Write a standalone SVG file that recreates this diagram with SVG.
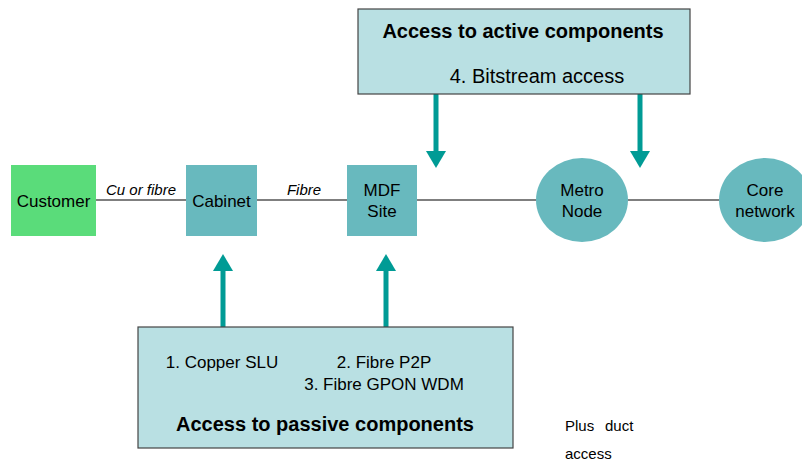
<svg xmlns="http://www.w3.org/2000/svg" width="802" height="462" viewBox="0 0 802 462">
  <style>
    text { font-family: "Liberation Sans", Arial, sans-serif; fill: #000; }
    .node { fill: #68B9BE; }
    .cust { fill: #5ADC7A; }
    .panel { fill: #B9E0E3; stroke: #444; stroke-width: 1.2; }
    .link { stroke: #555; stroke-width: 1.5; fill: none; }
    .arrow { stroke: #009B95; stroke-width: 5; fill: none; }
    .lbl { font-size: 17px; text-anchor: middle; }
    .it { font-size: 15px; font-style: italic; text-anchor: middle; }
    .hd { font-size: 20px; font-weight: bold; text-anchor: middle; }
    .item { font-size: 17px; text-anchor: middle; }
    .big { font-size: 20px; text-anchor: middle; }
    .note { font-size: 15px; }
  </style>
  <defs>
    <marker id="head" markerWidth="4" markerHeight="4" refX="1" refY="2" orient="auto" markerUnits="strokeWidth">
      <path d="M0,0 L3.4,2 L0,4 Z" fill="#009B95"/>
    </marker>
  </defs>

  <!-- chain links -->
  <g id="connectors">
    <line class="link" x1="96" y1="200" x2="186" y2="200"/>
    <line class="link" x1="257" y1="200" x2="347" y2="200"/>
    <line class="link" x1="417" y1="200" x2="536" y2="200"/>
    <line class="link" x1="628" y1="200" x2="719" y2="200"/>
    <text class="it" x="141" y="195">Cu or fibre</text>
    <text class="it" x="304" y="195">Fibre</text>
    <line class="arrow" x1="436" y1="94" x2="436" y2="156" marker-end="url(#head)"/>
    <line class="arrow" x1="640" y1="94" x2="640" y2="156" marker-end="url(#head)"/>
    <line class="arrow" x1="223" y1="327" x2="223" y2="266" marker-end="url(#head)"/>
    <line class="arrow" x1="386" y1="327" x2="386" y2="266" marker-end="url(#head)"/>
  </g>

  <g id="customer">
    <rect class="cust" x="11" y="165" width="85" height="71"/>
    <text class="lbl" x="53.5" y="207">Customer</text>
  </g>
  <g id="cabinet">
    <rect class="node" x="186" y="165" width="71" height="71"/>
    <text class="lbl" x="221.5" y="207">Cabinet</text>
  </g>
  <g id="mdf">
    <rect class="node" x="347" y="165" width="70" height="71"/>
    <text class="lbl" x="382" y="196">MDF</text>
    <text class="lbl" x="382" y="217">Site</text>
  </g>
  <g id="metro">
    <ellipse class="node" cx="582" cy="200" rx="46" ry="42"/>
    <text class="lbl" x="582" y="196">Metro</text>
    <text class="lbl" x="582" y="217">Node</text>
  </g>
  <g id="core">
    <ellipse class="node" cx="765" cy="200" rx="46" ry="42"/>
    <text class="lbl" x="765" y="196">Core</text>
    <text class="lbl" x="765" y="217">network</text>
  </g>

  <g id="active">
    <rect class="panel" x="358" y="9" width="332" height="85"/>
    <text class="hd" x="523" y="38">Access to active components</text>
    <text class="big" x="537" y="83">4. Bitstream access</text>
  </g>

  <g id="passive">
    <rect class="panel" x="138" y="327" width="375" height="121"/>
    <text class="item" x="222" y="368">1. Copper SLU</text>
    <text class="item" x="384" y="368">2. Fibre P2P</text>
    <text class="item" x="384" y="390">3. Fibre GPON WDM</text>
    <text class="hd" x="325" y="431">Access to passive components</text>
  </g>

  <g id="duct-note">
    <text class="note" x="565" y="431">Plus</text>
    <text class="note" x="605" y="431">duct</text>
    <text class="note" x="565" y="459">access</text>
  </g>
</svg>
